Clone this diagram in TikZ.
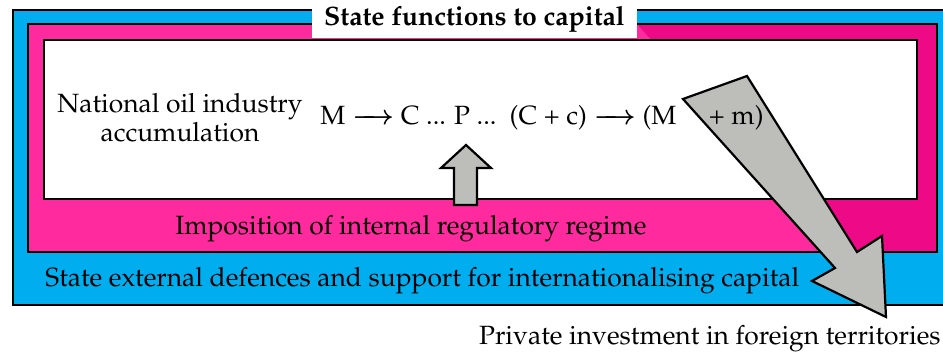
\documentclass[tikz,border=0pt]{standalone}
\usepackage[T1]{fontenc}
\usepackage{mathpazo}
\usepackage{tikz}
\definecolor{stateblue}{HTML}{00AEEF}
\definecolor{regpink}{HTML}{FF2A9E}
\definecolor{regpinkdark}{HTML}{EE0A86}
\definecolor{flowgrey}{HTML}{BDBEBA}
\tikzstyle{band}=[draw=black, line width=1.1pt]
\tikzstyle{blockarrow}=[draw=black, fill=flowgrey, line width=1.1pt, line join=miter]
\tikzstyle{boxtext}=[inner sep=0pt, font=\fontsize{13.2}{14.5}\selectfont]
\newcommand{\flowto}{{\boldmath$\relbar\joinrel\joinrel\joinrel\rightarrow$}}

\begin{document}
\begin{tikzpicture}[x=0.5pt, y=-0.5pt]
        \useasboundingbox (0,0) rectangle (943,352);
        % state, regime and accumulation bands
        \draw[band, fill=stateblue] (13,10) rectangle (960,305);
        \fill[regpink] (28,24) rectangle (937,252);
        \fill[regpinkdark] (637,24) -- (937,24) -- (937,252) -- (840,252) -- cycle;
        \draw[band] (28,24) rectangle (937,252);
        \draw[band, fill=white] (44,40) rectangle (917,199);
        \node[boxtext, fill=white, minimum width=162.5pt, minimum height=19pt, font=\fontsize{13.3}{14.5}\selectfont\bfseries] (title) at (474.5,19) {State functions to capital};
        % flows
        \draw[blockarrow] (454,205) -- (454,168) -- (441,168) -- (466,145) -- (491,168) -- (477,168) -- (477,205) -- cycle;
        \draw[blockarrow] (683,99) -- (747,76) -- (857,252) -- (882,236) -- (886,317) -- (812,281) -- (835,268) -- cycle;
        % texts
        \node[boxtext, align=center] (accum) at (180,118) {National oil industry\\accumulation};
        \node[boxtext, anchor=base west] (circuit) at (320,125) {M \flowto\ C ... P ...\ \ (C + c) \flowto\ (M\hspace{13pt} + m)};
        \node[boxtext, anchor=base west] (regime) at (175,235) {Imposition of internal regulatory regime};
        \node[boxtext, anchor=base west] (defence) at (45,287) {State external defences and support for internationalising capital};
        \node[boxtext, anchor=base east] (abroad) at (941,345) {Private investment in foreign territories};
    \end{tikzpicture}
\end{document}
